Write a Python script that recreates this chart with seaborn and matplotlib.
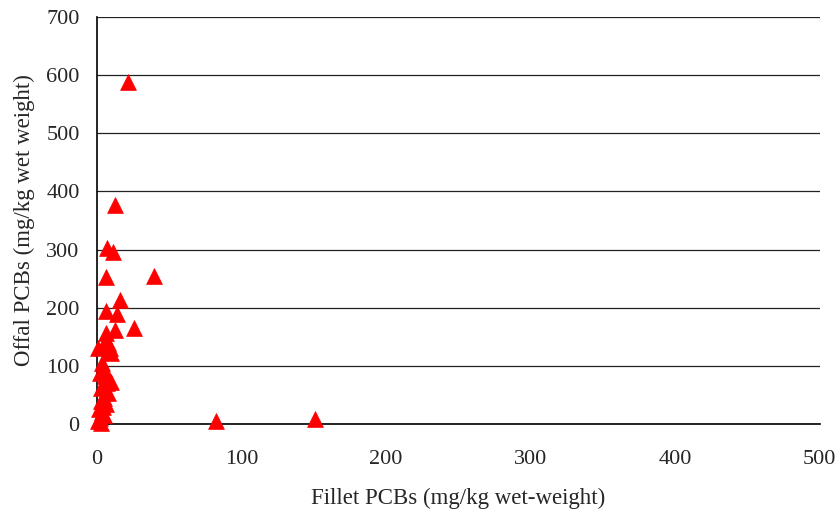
import matplotlib
matplotlib.use("Agg")
import matplotlib.pyplot as plt
import seaborn as sns
import pandas as pd

# values (mg/kg wet weight)
fillet = [21.5, 12.4, 6.7, 11.3, 6.0, 39.6, 16.0, 6.2, 13.6, 25.6, 12.4, 6.0,
          7.6, 9.0, 1.0, 10.0, 6.5, 8.0, 3.2, 4.5, 2.0, 5.5, 7.0, 10.0, 3.0,
          7.5, 5.0, 2.5, 6.0, 4.0, 1.5, 3.5, 5.0, 2.0, 1.0, 3.0, 82.0, 151.0]
offal = [588, 377, 302, 295, 253, 255, 213, 194, 190, 165, 162, 156,
         140, 131, 130, 122, 145, 126, 104, 95, 88, 82, 70, 73, 62,
         53, 45, 40, 35, 30, 25, 20, 15, 10, 5, 2, 5, 8]

df = pd.DataFrame({"Fillet": fillet, "Offal": offal})

sns.set_style("white")
plt.rcParams["font.family"] = ["Liberation Serif", "DejaVu Serif"]

fig = plt.figure(figsize=(8.4, 5.17), dpi=100)
ax = fig.add_axes([0.1155, 0.180, 0.8605, 0.787])

sns.scatterplot(data=df, x="Fillet", y="Offal", marker="^", color="#ff0000",
                edgecolor="#ff0000", linewidth=0.5, s=130, ax=ax, zorder=3,
                clip_on=False)

ax.set_xlim(0, 500)
ax.set_ylim(0, 700)
ax.set_xticks(range(0, 501, 100))
ax.set_yticks(range(0, 701, 100))
ax.yaxis.grid(True, color="#222222", linewidth=0.9)
ax.xaxis.grid(False)
ax.set_axisbelow(True)

for side in ["top", "right"]:
    ax.spines[side].set_visible(False)
for side in ["left", "bottom"]:
    ax.spines[side].set_color("black")
    ax.spines[side].set_linewidth(1.2)

ax.tick_params(axis="both", direction="out", length=5.5, width=1, color="black",
               labelsize=16)
ax.tick_params(axis="x", pad=13)
ax.tick_params(axis="y", pad=7)
ax.set_xlabel("Fillet PCBs (mg/kg wet-weight)", fontsize=16.5, labelpad=14)
ax.set_ylabel("Offal PCBs (mg/kg wet weight)", fontsize=16.5, labelpad=8)

fig.savefig("out.png", dpi=100)
